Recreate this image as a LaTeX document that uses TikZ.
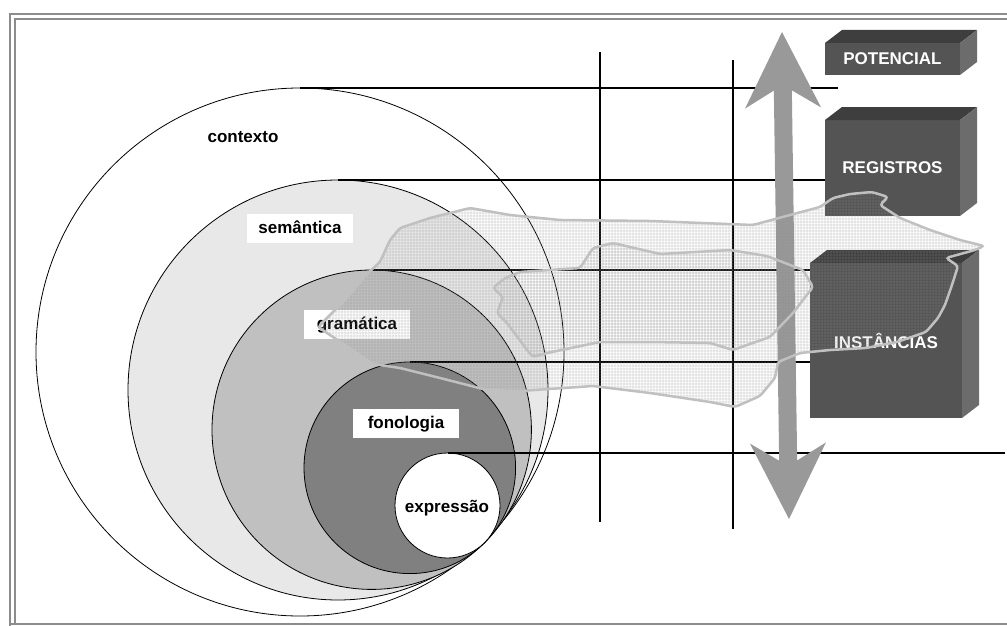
\documentclass[tikz,border=0pt]{standalone}
\usepackage{fontspec}
\setmainfont{Liberation Sans}
\usetikzlibrary{arrows.meta,patterns}

\definecolor{framegray}{RGB}{140,140,140}
\definecolor{semfill}{RGB}{232,232,232}
\definecolor{gramfill}{RGB}{192,192,192}
\definecolor{fonfill}{RGB}{128,128,128}
\definecolor{arrowgray}{RGB}{153,153,153}
\definecolor{boxfront}{RGB}{84,84,84}
\definecolor{boxtop}{RGB}{62,62,62}
\definecolor{boxside}{RGB}{108,108,108}
\definecolor{blobline}{RGB}{192,192,192}
\definecolor{blobgrid}{RGB}{140,140,140}

\tikzset{
	ring/.style={circle, draw=black, line width=0.8pt, inner sep=0pt, outer sep=0pt},
	tag/.style={font=\bfseries\fontsize{17}{20}\selectfont, text height=12.5pt, text depth=3.5pt, inner sep=0pt},
	tagbox/.style={tag, fill=white, minimum width=106pt, minimum height=29pt},
	block/.style={fill=boxfront, text=white, font=\bfseries\fontsize{17}{20}\selectfont, inner sep=0pt, outer sep=0pt},
	rule/.style={line width=1.6pt},
	updown/.style={arrowgray, line width=18pt,
		arrows={Stealth[length=76pt, width=76pt, inset=23pt, line width=0pt]-Stealth[length=76pt, width=76pt, inset=23pt, line width=0pt]}},
	blob/.style={draw=blobline, line width=2.5pt},
	blobfill/.style={pattern=grid, pattern color=blobgrid},
}

\begin{document}
\begin{tikzpicture}[x=1pt, y=-1pt]
	\useasboundingbox (0,0) rectangle (1007,626);
	\fill[white] (0,0) rectangle (1007,626);

	% frame
	\draw[framegray, line width=2pt] (10,626) -- (10,14) -- (1007,14);
	\draw[framegray, line width=2pt] (15,624) -- (15,19) -- (1007,19);
	\draw[framegray, line width=2pt] (10,624) -- (1007,624);

	% nested strata
	\node[ring, fill=white, minimum size=528pt] (ctx) at (300,352) {};
	\node[ring, fill=semfill, minimum size=420pt] (sem) at (338,390) {};
	\node[ring, fill=gramfill, minimum size=319.4pt] (gram) at (371.7,429.7) {};
	\node[ring, fill=fonfill, minimum size=211.6pt] (fon) at (409.8,467.8) {};
	\node[ring, fill=white, minimum size=105pt] (expr) at (447.5,505.5) {};

	\node[tag] (lctx) at (243,138) {contexto};
	\node[tagbox] (lsem) at (300,228.5) {semântica};
	\node[tagbox] (lgram) at (357,324.5) {gramática};
	\node[tagbox] (lfon) at (406,423.5) {fonologia};
	\node[tag] (lexpr) at (447,508) {expressão};

	% blocks on the right
	\node[block, minimum width=135pt, minimum height=32pt] (potencial) at (892.5,59) {POTENCIAL};
	\node[block, minimum width=135pt, minimum height=96pt] (registros) at (892.5,168) {REGISTROS};
	\node[block, minimum width=152pt, minimum height=155pt] (instancias) at (886,340.5) {INSTÂNCIAS};
	\foreach \b in {potencial,registros,instancias}{
		\fill[boxtop] (\b.north west) -- ++(17,-13) -- ([shift={(17,-13)}]\b.north east) -- (\b.north east) -- cycle;
		\fill[boxside] (\b.north east) -- ++(17,-13) -- ([shift={(17,-13)}]\b.south east) -- (\b.south east) -- cycle;
	}

	% level lines
	\coordinate (r88) at (838,88);
	\coordinate (r453) at (1005,453);
	\draw[rule] (ctx.north) -- (r88);
	\draw[rule] (sem.north) -- (sem.north -| registros.west);
	\draw[rule] (gram.north) -- (gram.north -| instancias.west);
	\draw[rule] (fon.north) -- (fon.north -| instancias.west);
	\draw[rule] (expr.north) -- (r453);

	\coordinate (va) at (600,52);
	\coordinate (vab) at (600,522);
	\coordinate (vb) at (733,60);
	\coordinate (vbb) at (733,529);
	\draw[rule] (va) -- (vab);
	\draw[rule] (vb) -- (vbb);

	% cline arrow
	\coordinate (arrtop) at (782,32);
	\coordinate (arrbot) at (789,519);
	\draw[updown] (arrtop) -- (arrbot);

	% texts
	\path[rounded corners=3pt, save path=\bigblob] (318,327) -- (345,300) -- (367,274) -- (380,262) -- (390,240) -- (400,228) -- (430,218)
		-- (470,208) -- (510,215) -- (560,220) -- (650,221) -- (753,225) -- (790,215) -- (820,207)
		-- (833,198) -- (850,194) -- (872,192) -- (888,197) -- (880,205) -- (900,218) -- (930,230)
		-- (960,240) -- (984,246) -- (975,250) -- (946,258) -- (958,266) -- (952,285) -- (945,305)
		-- (938,318) -- (926,332) -- (897,342) -- (866,348) -- (830,350) -- (800,353) -- (778,362)
		-- (775,378) -- (760,396) -- (735,407) -- (710,402) -- (650,393) -- (593,386) -- (520,391)
		-- (487,390) -- (440,378) -- (400,368) -- (373,364) -- (345,345) -- cycle;
	\path[rounded corners=3pt, save path=\smallblob] (493,288) -- (505,278) -- (520,272) -- (580,268) -- (593,248) -- (613,243) -- (660,254)
		-- (730,250) -- (767,256) -- (803,270) -- (813,287) -- (803,300) -- (793,313) -- (770,337)
		-- (733,350) -- (710,343) -- (650,342) -- (600,342) -- (547,353) -- (533,357) -- (527,350)
		-- (507,323) -- (497,313) -- (503,297) -- cycle;
	\begin{scope}[transparency group, opacity=0.85]
		\fill[blobfill, use path=\bigblob];
	\end{scope}
	\begin{scope}[transparency group, opacity=0.6]
		\fill[blobfill, use path=\smallblob];
	\end{scope}
	\draw[blob, use path=\bigblob];
	\draw[blob, use path=\smallblob];
\end{tikzpicture}
\end{document}
